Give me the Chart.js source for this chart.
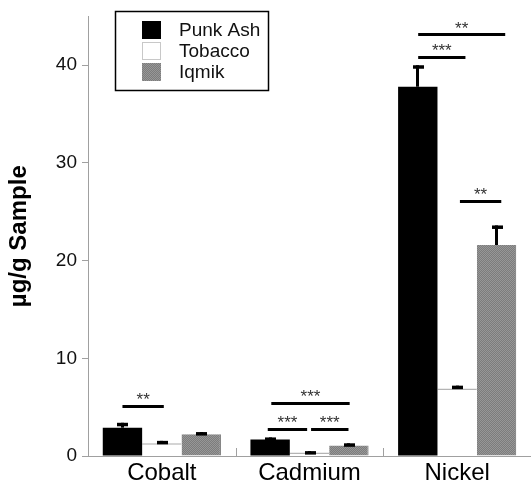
<!DOCTYPE html>
<html>
<head>
<meta charset="utf-8">
<script src="https://cdn.jsdelivr.net/npm/chart.js@4"></script>
<style>
html,body{margin:0;padding:0;background:#fff;}
canvas{display:block;}
</style>
</head>
<body>
<canvas id="c" width="531" height="485"></canvas>
<script>
const categories = ['Cobalt', 'Cadmium', 'Nickel'];
const seriesNames = ['Punk Ash', 'Tobacco', 'Iqmik'];
const punkAsh = [2.9, 1.7, 37.8];
const punkAshErr = [0.5, 0.2, 2.2];
const tobacco = [1.3, 0.37, 6.9];
const tobaccoErr = [0.25, 0.13, 0.3];
const iqmik = [2.23, 1.08, 21.6];
const iqmikErr = [0.22, 0.22, 2.0];
const yTicks = [0, 10, 20, 30, 40];
const yMax = 45;
// [category index, from bar (fractional), to bar (fractional), value, label]
const brackets = [
  [0, 0.0, 1.05, 5.1, '**'],
  [1, 0.03, 2.02, 5.4, '***'],
  [1, -0.06, 0.94, 2.74, '***'],
  [1, 1.04, 1.99, 2.74, '***'],
  [2, 0.01, 2.22, 43.1, '**'],
  [2, 0.01, 1.21, 40.8, '***'],
  [2, 1.07, 2.12, 26.1, '**']
];

const FONT = '"Liberation Sans", Arial, Helvetica, sans-serif';

// dithered grey pattern for Iqmik
function makePattern() {
  const p = document.createElement('canvas');
  p.width = 2; p.height = 2;
  const g = p.getContext('2d');
  g.fillStyle = '#7c7c7c'; g.fillRect(0, 0, 2, 2);
  g.fillStyle = '#979797'; g.fillRect(0, 0, 1, 1); g.fillRect(1, 1, 1, 1);
  return g.createPattern(p, 'repeat');
}
const iqPattern = makePattern();

const errs = [punkAshErr, tobaccoErr, iqmikErr];

const overlay = {
  id: 'overlay',
  afterDatasetsDraw(chart) {
    const ctx = chart.ctx;
    const ys = chart.scales.y;
    const area = chart.chartArea;
    ctx.save();
    // category divider ticks
    ctx.strokeStyle = '#a0a0a0';
    ctx.lineWidth = 1;
    const xs = chart.scales.x;
    for (let i = 1; i < categories.length; i++) {
      const xp = Math.round((xs.getPixelForValue(i - 1) + xs.getPixelForValue(i)) / 2) + 0.5;
      ctx.beginPath();
      ctx.moveTo(xp, area.bottom - 8);
      ctx.lineTo(xp, area.bottom);
      ctx.stroke();
    }
    // error bars
    ctx.fillStyle = '#000';
    chart.data.datasets.forEach((ds, di) => {
      const meta = chart.getDatasetMeta(di);
      meta.data.forEach((bar, j) => {
        const x = bar.x;
        const yTop = ys.getPixelForValue(ds.data[j]);
        const yErr = ys.getPixelForValue(ds.data[j] + errs[di][j]);
        ctx.fillRect(Math.round(x - 1.5), yErr, 3, yTop - yErr);
        ctx.fillRect(Math.round(x - 5), yErr, 11, 3.5);
      });
    });
    // significance brackets
    brackets.forEach(([cat, a, b, v, label]) => {
      const m0 = chart.getDatasetMeta(0).data[cat].x;
      const m1 = chart.getDatasetMeta(1).data[cat].x;
      const step = m1 - m0;
      const x1 = m0 + a * step;
      const x2 = m0 + b * step;
      const y = ys.getPixelForValue(v);
      ctx.fillStyle = '#000';
      ctx.fillRect(x1, Math.round(y - 1.5), x2 - x1, 3);
      ctx.fillStyle = '#333';
      ctx.font = '17px ' + FONT;
      ctx.textAlign = 'center';
      ctx.textBaseline = 'alphabetic';
      ctx.fillText(label, (x1 + x2) / 2, y - 1);
    });
    // legend
    const lx = 115, ly = 11, lw = 153, lh = 79;
    ctx.fillStyle = '#fff';
    ctx.fillRect(lx, ly, lw, lh);
    ctx.strokeStyle = '#000';
    ctx.lineWidth = 1.5;
    ctx.strokeRect(lx + 0.5, ly + 0.5, lw, lh);
    ctx.font = '19px ' + FONT;
    ctx.textAlign = 'left';
    ctx.textBaseline = 'middle';
    chart.data.datasets.forEach((ds, i) => {
      const cy = 30 + i * 21;
      ctx.fillStyle = ds.backgroundColor;
      ctx.fillRect(142, cy - 9, 19, 18);
      if (i === 1) {
        ctx.strokeStyle = '#c8c8c8';
        ctx.lineWidth = 1;
        ctx.strokeRect(142.5, cy - 8.5, 18, 17);
      }
      ctx.fillStyle = '#111';
      ctx.fillText(ds.label, 179, cy + 1);
    });
    ctx.restore();
  }
};

new Chart(document.getElementById('c'), {
  type: 'bar',
  data: {
    labels: categories,
    datasets: [
      { label: seriesNames[0], data: punkAsh, backgroundColor: '#000000', borderWidth: 0 },
      { label: seriesNames[1], data: tobacco, backgroundColor: '#ffffff', borderColor: '#b4b4b4',
        borderWidth: { top: 1.5, left: 0, right: 0, bottom: 0 }, borderSkipped: false },
      { label: seriesNames[2], data: iqmik, backgroundColor: iqPattern, borderColor: '#6a6a6a',
        borderWidth: { top: 0, left: 0, right: 1, bottom: 0 }, borderSkipped: false }
    ]
  },
  options: {
    responsive: false,
    animation: false,
    devicePixelRatio: 1,
    categoryPercentage: 0.8,
    barPercentage: 1.0,
    layout: { padding: { top: 14, right: 0, left: 0, bottom: 0 } },
    plugins: { legend: { display: false }, tooltip: { enabled: false } },
    scales: {
      x: {
        grid: { display: false },
        border: { display: true, color: '#a0a0a0', width: 1 },
        ticks: { color: '#000', font: { family: FONT, size: 24 }, padding: -5 },
        afterFit(s) { s.height = 29; }
      },
      y: {
        min: 0,
        max: yMax,
        afterBuildTicks(s) { s.ticks = yTicks.map(v => ({ value: v })); },
        grid: { drawOnChartArea: false, drawTicks: true, tickLength: 6, color: '#a0a0a0' },
        border: { display: true, color: '#a0a0a0', width: 1 },
        ticks: { color: '#111', font: { family: FONT, size: 19 }, padding: 5 },
        title: { display: true, text: 'µg/g Sample', color: '#000',
          font: { family: FONT, size: 24, weight: 'bold' }, padding: { top: 5, bottom: 0 } },
        afterFit(s) { s.width = 88; }
      }
    }
  },
  plugins: [overlay]
});
</script>
</body>
</html>
